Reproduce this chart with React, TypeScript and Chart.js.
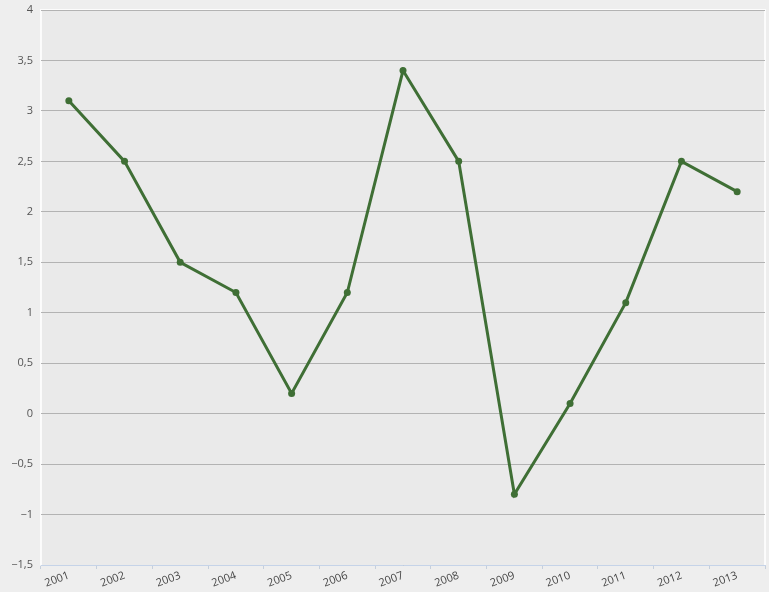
import React, { useEffect, useRef } from "react";
import { Chart, registerables } from "chart.js";

Chart.register(...registerables);

const years = ["2001","2002","2003","2004","2005","2006","2007","2008","2009","2010","2011","2012","2013"];
const values = [3.1, 2.5, 1.5, 1.2, 0.2, 1.2, 3.4, 2.5, -0.8, 0.1, 1.1, 2.5, 2.2];
const yMin = -1.5;
const yMax = 4;
const yStep = 0.5;

const bgPlugin = {
  id: "bg",
  beforeDraw(chart: any) {
    const { ctx, chartArea } = chart;
    ctx.save();
    ctx.fillStyle = "#eeeeee";
    ctx.fillRect(0, 0, chart.width, chart.height);
    ctx.fillStyle = "#eaeaea";
    ctx.fillRect(chartArea.left, chartArea.top, chartArea.right - chartArea.left, chartArea.bottom - chartArea.top);
    ctx.strokeStyle = "rgba(255,255,255,0.8)";
    ctx.lineWidth = 2;
    ctx.beginPath();
    ctx.moveTo(chartArea.left, chartArea.bottom);
    ctx.lineTo(chartArea.left, chartArea.top);
    ctx.lineTo(chartArea.right, chartArea.top);
    ctx.lineTo(chartArea.right, chartArea.bottom);
    ctx.stroke();
    ctx.restore();
  },
};

export default function App() {
  const ref = useRef<HTMLCanvasElement>(null);
  useEffect(() => {
    document.body.style.margin = "0";
    const chart = new Chart(ref.current!, {
      type: "line",
      data: {
        labels: years,
        datasets: [
          {
            data: values,
            borderColor: "#3f6f35",
            backgroundColor: "#3f6f35",
            borderWidth: 3,
            pointRadius: 3.5,
            pointBackgroundColor: "#3f6f35",
            pointBorderWidth: 0,
            tension: 0,
          },
        ],
      },
      options: {
        animation: false,
        responsive: false,
        maintainAspectRatio: false,
        layout: { padding: { top: 10, right: 3, left: 0, bottom: 0 } },
        plugins: { legend: { display: false }, tooltip: { enabled: false } },
        scales: {
          x: {
            offset: true,
            grid: {
              display: true,
              drawOnChartArea: false,
              drawTicks: true,
              tickLength: 4,
              color: "#c5cfdc",
              offset: true,
            },
            border: { color: "#c5d3e8", width: 1 },
            ticks: {
              autoSkip: false,
              minRotation: 20,
              maxRotation: 20,
              color: "#444",
              font: { family: "Open Sans", size: 11 },
              padding: 0,
            },
            afterFit(scale: any) {
              scale.height = 27;
              scale.paddingLeft = 0;
              scale.paddingRight = 0;
            },
          },
          y: {
            min: yMin,
            max: yMax,
            grid: { color: "#b3b3b3", lineWidth: 1, drawTicks: false },
            border: { display: false },
            ticks: {
              stepSize: yStep,
              color: "#555",
              padding: 8,
              font: { family: "Open Sans", size: 11 },
              callback: (v: any) => String(v).replace(".", ",").replace("-", "\u2212"),
            },
            afterFit(scale: any) {
              scale.width = 41;
              scale.paddingTop = 0;
              scale.paddingBottom = 0;
            },
          },
        },
      },
      plugins: [bgPlugin],
    });
    return () => chart.destroy();
  }, []);
  return (
    <div style={{ position: "absolute", left: 0, top: 0, width: 769, height: 592 }}>
      <canvas ref={ref} width={769} height={592} style={{ width: 769, height: 592, display: "block" }} />
    </div>
  );
}
